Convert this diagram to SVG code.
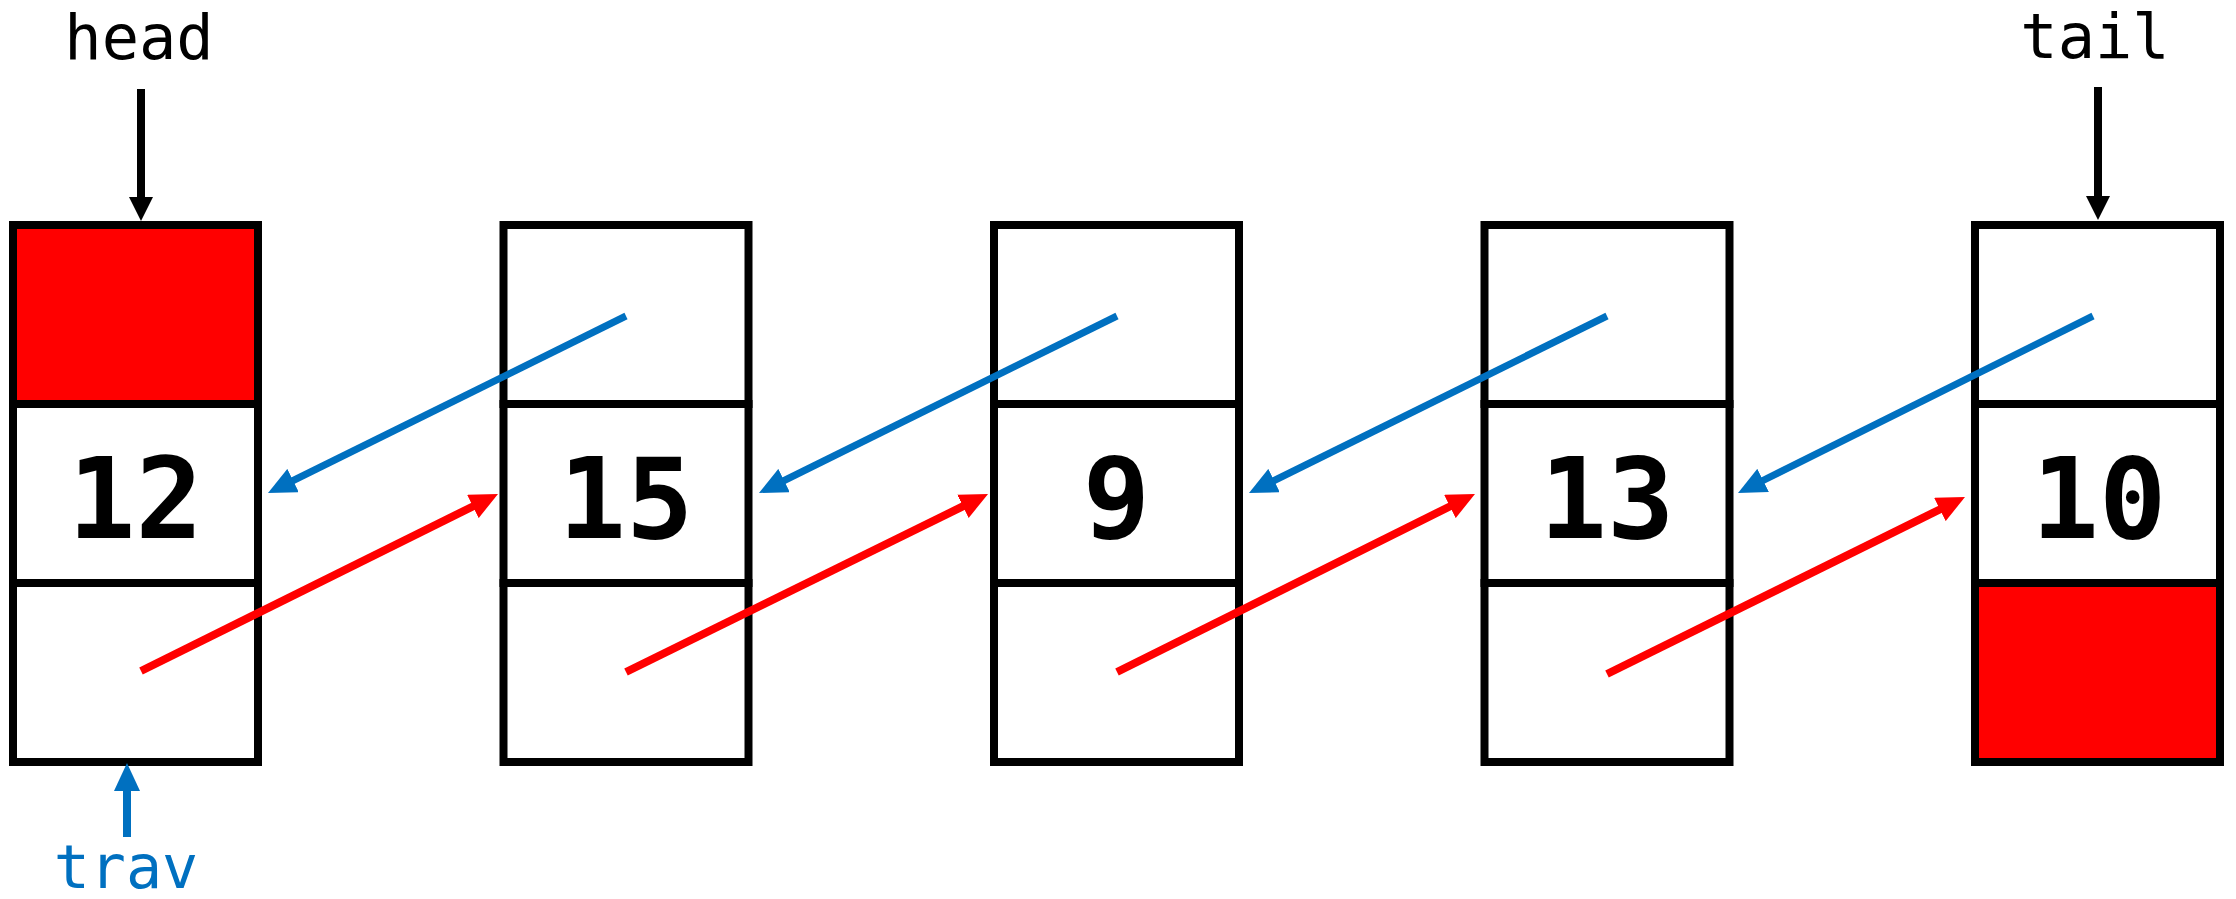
<svg xmlns="http://www.w3.org/2000/svg" width="2236" height="899" viewBox="0 0 2236 899">
  <style>
    .box { fill: #FFFFFF; stroke: #000000; stroke-width: 8; stroke-linejoin: miter; }
    .div { stroke: #000000; stroke-width: 8; stroke-linecap: square; }
    .null { fill: #FF0000; stroke: none; }
    .num { font-family: "DejaVu Sans Mono", "Liberation Mono", monospace; font-weight: bold; font-size: 112px; text-anchor: middle; fill: #000000; }
    .lbl { font-family: "DejaVu Sans Mono", "Liberation Mono", monospace; font-size: 62px; text-anchor: middle; fill: #000000; }
    .lblb { font-family: "DejaVu Sans Mono", "Liberation Mono", monospace; font-size: 60px; text-anchor: middle; fill: #0070C0; }
    .next { stroke: #FF0000; stroke-width: 8; fill: none; marker-end: url(#ah-red); }
    .prev { stroke: #0070C0; stroke-width: 7; fill: none; marker-end: url(#ah-blue); }
    .ptr { stroke: #000000; stroke-width: 8; fill: none; marker-end: url(#ah-black); }
    .ptrb { stroke: #0070C0; stroke-width: 8; fill: none; marker-end: url(#ah-blue); }
  </style>
  <defs>
    <marker id="ah-red" markerUnits="userSpaceOnUse" viewBox="0 0 28 26" markerWidth="28" markerHeight="26" refX="1" refY="13" orient="auto">
      <path d="M0,0 L28,13 L0,26 z" fill="#FF0000"/>
    </marker>
    <marker id="ah-blue" markerUnits="userSpaceOnUse" viewBox="0 0 28 26" markerWidth="28" markerHeight="26" refX="1" refY="13" orient="auto">
      <path d="M0,0 L28,13 L0,26 z" fill="#0070C0"/>
    </marker>
    <marker id="ah-black" markerUnits="userSpaceOnUse" viewBox="0 0 24 24" markerWidth="24" markerHeight="24" refX="1" refY="12" orient="auto">
      <path d="M0,0 L24,12 L0,24 z" fill="#000000"/>
    </marker>
  </defs>
  <rect width="2236" height="899" fill="#FFFFFF"/>

  <g id="node-12">
    <rect class="box" x="13" y="225" width="245" height="537"/>
    <rect class="null" x="17" y="229" width="237" height="171"/>
    <line class="div" x1="13" y1="404" x2="258" y2="404"/>
    <line class="div" x1="13" y1="583" x2="258" y2="583"/>
    <text class="num" x="135.5" y="538">12</text>
  </g>
  <g id="node-15">
    <rect class="box" x="503.5" y="225" width="245" height="537"/>
    <line class="div" x1="503.5" y1="404" x2="748.5" y2="404"/>
    <line class="div" x1="503.5" y1="583" x2="748.5" y2="583"/>
    <text class="num" x="626" y="538">15</text>
  </g>
  <g id="node-9">
    <rect class="box" x="994" y="225" width="245" height="537"/>
    <line class="div" x1="994" y1="404" x2="1239" y2="404"/>
    <line class="div" x1="994" y1="583" x2="1239" y2="583"/>
    <text class="num" x="1116.5" y="538">9</text>
  </g>
  <g id="node-13">
    <rect class="box" x="1484.5" y="225" width="245" height="537"/>
    <line class="div" x1="1484.5" y1="404" x2="1729.5" y2="404"/>
    <line class="div" x1="1484.5" y1="583" x2="1729.5" y2="583"/>
    <text class="num" x="1607" y="538">13</text>
  </g>
  <g id="node-10">
    <rect class="box" x="1975" y="225" width="245" height="537"/>
    <rect class="null" x="1979" y="587" width="237" height="171"/>
    <line class="div" x1="1975" y1="404" x2="2220" y2="404"/>
    <line class="div" x1="1975" y1="583" x2="2220" y2="583"/>
    <text class="num" x="2099" y="538">10</text>
  </g>

  <g id="label-head">
    <text class="lbl" x="139" y="59">head</text>
  </g>
  <g id="label-tail">
    <text class="lbl" x="2095" y="58">tail</text>
  </g>
  <g id="label-trav">
    <text class="lblb" x="126" y="888">trav</text>
  </g>

  <g id="connectors">
    <line class="ptr" x1="141" y1="89" x2="141" y2="198"/>
    <line class="ptr" x1="2098" y1="87" x2="2098" y2="197"/>
    <line class="ptrb" x1="127" y1="837" x2="127" y2="790"/>

    <line class="next" x1="141" y1="671" x2="473.8" y2="506"/>
    <line class="next" x1="626" y1="672" x2="963.8" y2="505.9"/>
    <line class="next" x1="1117" y1="672" x2="1450.8" y2="506"/>
    <line class="next" x1="1607" y1="674" x2="1940.8" y2="509"/>

    <line class="prev" x1="626" y1="316" x2="292.2" y2="481"/>
    <line class="prev" x1="1117" y1="316" x2="783.2" y2="481"/>
    <line class="prev" x1="1607" y1="316" x2="1273.2" y2="481"/>
    <line class="prev" x1="2093" y1="316" x2="1762.2" y2="480.9"/>
  </g>
</svg>
